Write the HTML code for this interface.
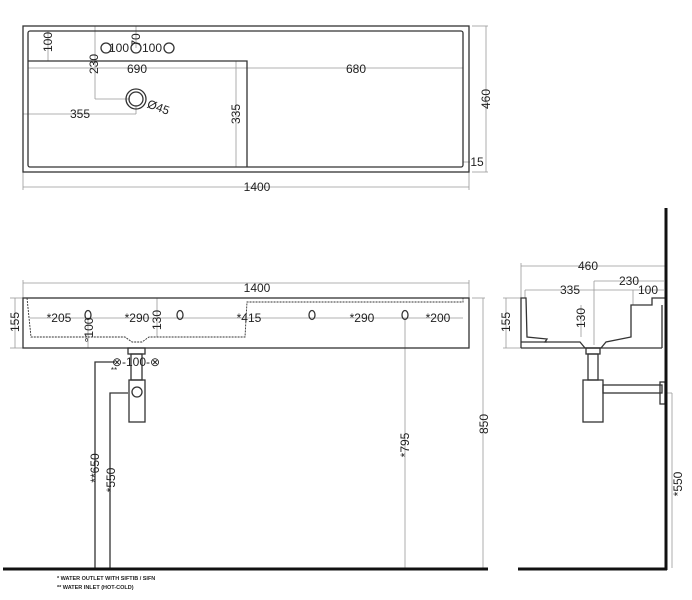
<!DOCTYPE html>
<html><head><style>body{margin:0;background:#fff}svg{display:block}</style></head><body>
<svg width="692" height="600" viewBox="0 0 692 600" xmlns="http://www.w3.org/2000/svg" font-family="Liberation Sans, sans-serif" font-size="12" fill="#222">
<g fill="none" stroke="#999" stroke-width="0.8">
<line x1="23" y1="187" x2="469" y2="187"/><line x1="23" y1="172" x2="23" y2="190"/><line x1="469" y1="172" x2="469" y2="190"/>
<line x1="472" y1="26" x2="488" y2="26"/><line x1="472" y1="172" x2="488" y2="172"/><line x1="486" y1="26" x2="486" y2="172"/>
<line x1="28" y1="68" x2="463" y2="68"/><line x1="95" y1="26" x2="95" y2="99"/><line x1="95" y1="99" x2="130" y2="99"/>
<line x1="136" y1="26" x2="136" y2="48"/><line x1="48" y1="31" x2="48" y2="61"/>
<line x1="236" y1="61" x2="236" y2="167"/><line x1="23" y1="114" x2="136" y2="114"/><line x1="136" y1="105" x2="136" y2="114"/>
<line x1="463" y1="162" x2="470" y2="162"/>
<line x1="23" y1="283" x2="469" y2="283"/><line x1="23" y1="280" x2="23" y2="298"/><line x1="469" y1="280" x2="469" y2="298"/>
<line x1="10" y1="298" x2="23" y2="298"/><line x1="10" y1="348" x2="23" y2="348"/><line x1="15" y1="298" x2="15" y2="348"/>
<line x1="30" y1="318" x2="463" y2="318"/><line x1="88" y1="318" x2="88" y2="348"/><line x1="157" y1="298" x2="157" y2="337"/>
<line x1="405" y1="318" x2="405" y2="568"/><line x1="472" y1="298" x2="485" y2="298"/><line x1="483" y1="298" x2="483" y2="568"/>
<line x1="521" y1="266" x2="666" y2="266"/><line x1="521" y1="263" x2="521" y2="298"/>
<line x1="594" y1="281" x2="664" y2="281"/><line x1="594" y1="281" x2="594" y2="345"/>
<line x1="525" y1="290" x2="664" y2="290"/><line x1="525" y1="290" x2="525" y2="298"/><line x1="633" y1="290" x2="633" y2="305"/>
<line x1="503" y1="298" x2="521" y2="298"/><line x1="503" y1="348" x2="521" y2="348"/><line x1="506" y1="298" x2="506" y2="348"/>
<line x1="581" y1="305" x2="581" y2="337"/><line x1="666" y1="393" x2="672" y2="393"/><line x1="672" y1="393" x2="672" y2="568"/>
</g>
<g fill="none" stroke="#333" stroke-width="1.3">
<rect x="23" y="26" width="446" height="146"/><rect x="28" y="31" width="435" height="136" rx="2"/>
<polyline points="28,61 247,61 247,167"/>
<circle cx="136" cy="99" r="10"/><circle cx="136" cy="99" r="7"/>
<circle cx="106" cy="48" r="5"/><circle cx="136" cy="48" r="5"/><circle cx="169" cy="48" r="5"/>
<rect x="23" y="298" width="446" height="50"/>
<polyline stroke-dasharray="2,1" stroke-width="0.9" points="27,298 31,337 125,337 132,342 142,342 149,337 245,337 247,302 463,302 463,298"/>
<ellipse cx="88" cy="315" rx="3" ry="4.5"/><ellipse cx="180" cy="315" rx="3" ry="4.5"/><ellipse cx="312" cy="315" rx="3" ry="4.5"/><ellipse cx="405" cy="315" rx="3" ry="4.5"/>
<rect x="128" y="348" width="17" height="6"/><rect x="131" y="354" width="11" height="26"/><rect x="129" y="380" width="16" height="42"/><circle cx="137" cy="392" r="5"/>
<polyline points="115,362 95,362 95,568"/><polyline points="128,393 110,393 110,568"/>
<polyline points="521,348 521,298 526,298 527,337 547,339 545,342 580,342 585,348 601,348 606,342 631,337 631,305 652,305 652,298 666,298"/>
<line x1="521" y1="348" x2="662" y2="348"/><line x1="547" y1="342" x2="521" y2="342"/><line x1="662" y1="305" x2="662" y2="348"/>
<rect x="586" y="348" width="14" height="6"/><rect x="588" y="354" width="10" height="26"/><rect x="583" y="380" width="20" height="42"/>
<rect x="603" y="385" width="59" height="8"/><rect x="660" y="382" width="5" height="22"/>
</g>
<g stroke="#111" stroke-width="3"><line x1="3" y1="569" x2="488" y2="569"/><line x1="518" y1="569" x2="667" y2="569"/><line x1="666" y1="208" x2="666" y2="570"/></g>
<g text-anchor="middle">
<text x="257" y="191">1400</text><text x="137" y="73">690</text><text x="356" y="73">680</text><text x="80" y="118">355</text>
<text x="119" y="52">100</text><text x="152" y="52">100</text>
<text transform="translate(52,42) rotate(-90)">100</text><text transform="translate(140,40) rotate(-90)">70</text>
<text transform="translate(98,64) rotate(-90)">230</text><text transform="translate(240,114) rotate(-90)">335</text>
<text transform="translate(490,99) rotate(-90)">460</text><text transform="translate(157,111) rotate(20)">Ø45</text>
<text x="477" y="166">15</text>
<text x="257" y="292">1400</text><text x="59" y="322">*205</text><text x="137" y="322">*290</text><text x="249" y="322">*415</text><text x="362" y="322">*290</text><text x="438" y="322">*200</text>
<text transform="translate(19,322) rotate(-90)">155</text><text transform="translate(93,330) rotate(-90)">°100</text><text transform="translate(161,320) rotate(-90)">130</text>
<text x="136" y="366">⊗-100-⊗</text><text x="114" y="373" font-size="8">**</text>
<text transform="translate(99,468) rotate(-90)">**650</text><text transform="translate(115,480) rotate(-90)">*550</text>
<text transform="translate(409,445) rotate(-90)">*795</text><text transform="translate(488,424) rotate(-90)">850</text>
<text x="588" y="270">460</text><text x="629" y="285">230</text><text x="570" y="294">335</text><text x="648" y="294">100</text>
<text transform="translate(510,322) rotate(-90)">155</text><text transform="translate(585,318) rotate(-90)">130</text>
<text transform="translate(682,484) rotate(-90)">*550</text>
</g>
<text x="57" y="580" font-size="5.5" font-weight="bold">* WATER OUTLET WITH SIFTIB / SIFN</text>
<text x="57" y="589" font-size="5.5" font-weight="bold">** WATER INLET  (HOT-COLD)</text>
</svg>
</body></html>
